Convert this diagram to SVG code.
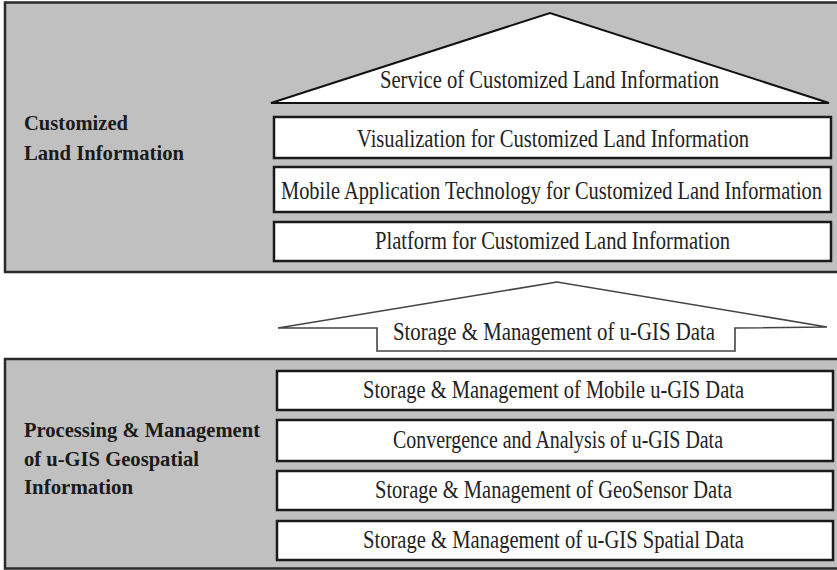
<svg xmlns="http://www.w3.org/2000/svg" width="837" height="570" viewBox="0 0 837 570">
<style>
.panel{fill:#c0c0c0;stroke:#2a2a2a;stroke-width:2.5}
.box{fill:#fff;stroke:#1a1a1a;stroke-width:2.5}
.t{font-family:"Liberation Serif","Times New Roman",serif;font-size:20.5px;fill:#222;text-anchor:start}
.lbl{font-family:"Liberation Serif","Times New Roman",serif;font-size:21px;font-weight:bold;fill:#1a1a1a}
</style>
<rect width="837" height="570" fill="#fff"/>
<g id="panel-top">
<rect class="panel" x="5" y="2.5" width="845" height="269.5"/>
<text class="lbl" x="24" y="130" textLength="104" lengthAdjust="spacingAndGlyphs">Customized</text>
<text class="lbl" x="24" y="160" textLength="160" lengthAdjust="spacingAndGlyphs">Land Information</text>
</g>
<g id="roof">
<polygon points="271,103 550,13 829,103" fill="#fff" stroke="#111" stroke-width="2"/>
<text class="t" transform="translate(380,88) scale(1,1.25)" textLength="339" lengthAdjust="spacingAndGlyphs">Service of Customized Land Information</text>
</g>
<g id="box-visualization">
<rect class="box" x="274" y="117" width="557" height="41"/>
<text class="t" transform="translate(357,147) scale(1,1.25)" textLength="392" lengthAdjust="spacingAndGlyphs">Visualization for Customized Land Information</text>
</g>
<g id="box-mobile">
<rect class="box" x="274" y="167" width="557" height="45"/>
<text class="t" transform="translate(281,199) scale(1,1.25)" textLength="541" lengthAdjust="spacingAndGlyphs">Mobile Application Technology for Customized Land Information</text>
</g>
<g id="box-platform">
<rect class="box" x="274" y="222" width="557" height="39"/>
<text class="t" transform="translate(375,249) scale(1,1.25)" textLength="355" lengthAdjust="spacingAndGlyphs">Platform for Customized Land Information</text>
</g>
<g id="connectors">
<polygon points="278,328 557,282 827,327 735,328 735,351 377,351 377,328" fill="#fff" stroke="#444" stroke-width="1.6"/>
</g>
<g id="arrow-label">
<text class="t" transform="translate(393,340) scale(1,1.25)" textLength="322" lengthAdjust="spacingAndGlyphs">Storage &amp; Management of  u-GIS Data</text>
</g>
<g id="panel-bottom">
<rect class="panel" x="5" y="359" width="845" height="209.5"/>
<text class="lbl" x="24" y="437" textLength="236" lengthAdjust="spacingAndGlyphs">Processing &amp; Management</text>
<text class="lbl" x="24" y="466" textLength="175" lengthAdjust="spacingAndGlyphs">of u-GIS Geospatial</text>
<text class="lbl" x="24" y="494" textLength="109" lengthAdjust="spacingAndGlyphs">Information</text>
</g>
<g id="box-mobile-data">
<rect class="box" x="277" y="371" width="556" height="39"/>
<text class="t" transform="translate(363,398) scale(1,1.25)" textLength="381" lengthAdjust="spacingAndGlyphs">Storage &amp; Management of Mobile u-GIS Data</text>
</g>
<g id="box-convergence">
<rect class="box" x="277" y="420" width="556" height="41"/>
<text class="t" transform="translate(393,448) scale(1,1.25)" textLength="330" lengthAdjust="spacingAndGlyphs">Convergence and Analysis of u-GIS Data</text>
</g>
<g id="box-geosensor">
<rect class="box" x="277" y="471" width="556" height="39"/>
<text class="t" transform="translate(375,498) scale(1,1.25)" textLength="357" lengthAdjust="spacingAndGlyphs">Storage &amp; Management of GeoSensor Data</text>
</g>
<g id="box-spatial">
<rect class="box" x="277" y="521" width="556" height="39"/>
<text class="t" transform="translate(363,548) scale(1,1.25)" textLength="381" lengthAdjust="spacingAndGlyphs">Storage &amp; Management of u-GIS Spatial Data</text>
</g>
</svg>
